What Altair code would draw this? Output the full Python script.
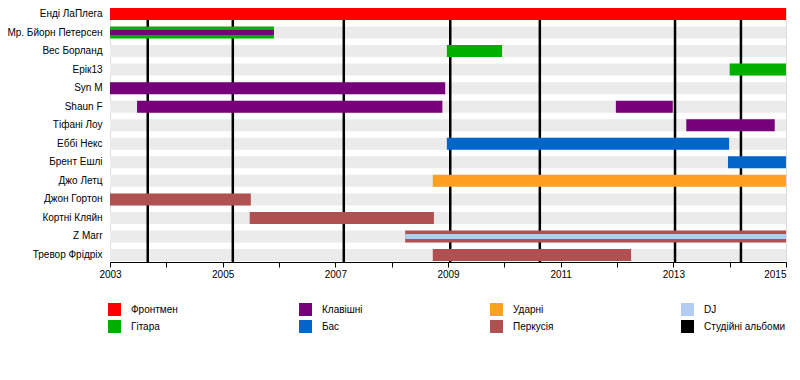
import altair as alt
import pandas as pd

# ---- data ----
members = ["Енді ЛаПлега", "Мр. Бйорн Петерсен", "Вес Борланд", "Ерік13", "Syn M",
           "Shaun F", "Тіфані Лоу", "Еббі Некс", "Брент Ешлі", "Джо Летц",
           "Джон Гортон", "Кортні Кляйн", "Z Marr", "Тревор Фрідріх"]

bar_member = ["Енді ЛаПлега", "Мр. Бйорн Петерсен", "Вес Борланд", "Ерік13", "Syn M",
              "Shaun F", "Shaun F", "Тіфані Лоу", "Еббі Некс", "Брент Ешлі", "Джо Летц",
              "Джон Гортон", "Кортні Кляйн", "Z Marr", "Тревор Фрідріх"]
bar_role = ["Фронтмен", "Гітара", "Гітара", "Гітара", "Клавішні",
            "Клавішні", "Клавішні", "Клавішні", "Бас", "Бас", "Ударні",
            "Перкусія", "Перкусія", "Перкусія", "Перкусія"]
bar_start = [2003.0, 2003.0, 2008.98, 2014.0, 2003.0,
             2003.48, 2011.98, 2013.23, 2008.98, 2013.97, 2008.73,
             2003.0, 2005.48, 2008.24, 2008.73]
bar_end = [2015.0, 2005.91, 2009.96, 2015.0, 2008.95,
           2008.9, 2012.99, 2014.8, 2013.99, 2015.0, 2015.0,
           2005.5, 2008.75, 2015.0, 2012.25]

stripe_member = ["Мр. Бйорн Петерсен", "Z Marr"]
stripe_role = ["Клавішні", "DJ"]
stripe_start = [2003.0, 2008.24]
stripe_end = [2005.91, 2015.0]

album_years = [2003.67, 2005.18, 2007.15, 2009.04, 2010.63, 2013.03, 2014.2]

# legend is filled column by column (2 rows x 4 columns)
roles = ["Фронтмен", "Гітара", "Клавішні", "Бас",
         "Ударні", "Перкусія", "DJ", "Студійні альбоми"]
role_colors = ["#FF0000", "#00B000", "#75007A", "#0066CC",
               "#FFA020", "#B05050", "#B3CCF2", "#000000"]

year_start, year_end = 2003, 2015
tick_years = list(range(2003, 2016))

# ---- tables ----
bg_df = pd.DataFrame({"member": members,
                      "start": [year_start] * len(members),
                      "end": [year_end] * len(members)})
bars_df = pd.DataFrame({"member": bar_member, "role": bar_role,
                        "start": bar_start, "end": bar_end})
stripes_df = pd.DataFrame({"member": stripe_member, "role": stripe_role,
                           "start": stripe_start, "end": stripe_end})
albums_df = pd.DataFrame({"start": album_years})

FONT = "Liberation Sans"

x_enc = alt.X("start:Q",
              scale=alt.Scale(domain=[year_start, year_end], nice=False, zero=False),
              axis=alt.Axis(title=None, values=tick_years, format="d",
                            labelExpr="datum.value % 2 == 1 ? format(datum.value, 'd') : ''",
                            labelAlign={"condition": {"test": "datum.value >= 2015", "value": "right"},
                                        "value": "center"},
                            grid=False, domainColor="black", tickColor="black",
                            tickSize=5, labelPadding=2, labelFontSize=10,
                            labelColor="black", labelFont=FONT, labelFlush=False))
y_enc = alt.Y("member:N", sort=members,
              scale=alt.Scale(domain=members, range=[-3.27, 256.29],
                              paddingInner=0, paddingOuter=0),
              axis=alt.Axis(title=None, domain=False, ticks=False, labelPadding=8,
                            labelFontSize=10, labelColor="black", labelFont=FONT))

color_enc = alt.Color("role:N",
                      scale=alt.Scale(domain=roles, range=role_colors),
                      legend=alt.Legend(title=None, orient="none", legendX=-2, legendY=295,
                                        columns=4, symbolType="square", symbolSize=169,
                                        symbolStrokeWidth=0, symbolOpacity=1,
                                        labelFontSize=10, labelFont=FONT, labelColor="black",
                                        labelOffset=10, columnPadding=86, rowPadding=4,
                                        gridAlign="all", padding=0))

bg = alt.Chart(bg_df).mark_bar(size=12, color="#EBEBEB").encode(
    x=x_enc, x2="end:Q", y=y_enc)

albums = alt.Chart(albums_df).mark_rule(color="black", strokeWidth=2.5).encode(
    x=x_enc)

bars = alt.Chart(bars_df).mark_bar(size=12, opacity=1).encode(
    x=x_enc, x2="end:Q", y=y_enc, color=color_enc)

stripes = alt.Chart(stripes_df).mark_bar(size=5, opacity=1).encode(
    x=x_enc, x2="end:Q", y=y_enc, color=color_enc)

chart = alt.layer(bg, albums, bars, stripes).properties(
    width=676, height=254,
    autosize=alt.AutoSizeParams(type="none"),
    padding={"left": 102, "top": 0, "right": 6, "bottom": 110},
).configure_view(stroke=None).configure(font=FONT)

chart.save("out.html", embed_options={"renderer": "svg", "actions": False})
